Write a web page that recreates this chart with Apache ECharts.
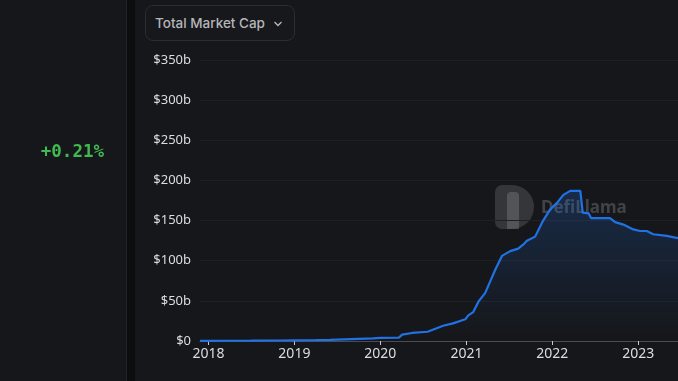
<!DOCTYPE html>
<html>
<head>
<meta charset="utf-8">
<script src="https://cdn.jsdelivr.net/npm/echarts@6/dist/echarts.min.js"></script>
<style>
  html, body { margin: 0; padding: 0; width: 678px; height: 381px; overflow: hidden; background: #16171a; }
  #left { position: absolute; left: 0; top: 0; width: 126px; height: 381px; background: #16171a; border-right: 1px solid #222327; }
  #gap { position: absolute; left: 127px; top: 0; width: 8px; height: 381px; background: #0c0d0f; }
  #chart { position: absolute; left: 0; top: 0; width: 678px; height: 381px; }
  #pct { position: absolute; left: 0; width: 104px; top: 141px; text-align: right; font-family: "DejaVu Sans Mono", monospace; font-weight: bold; font-size: 17.5px; color: #3fb950; }
  #btn { position: absolute; left: 145px; top: 5px; width: 150px; height: 36px; border: 1px solid #2b2d31; border-radius: 8px; box-sizing: border-box; background: #17181b; font-family: Inter, "Noto Sans", sans-serif; font-weight: 500; font-size: 13.5px; color: #b4b6ba; line-height: 34px; padding-left: 9px; }
  #btn svg { position: absolute; right: 11px; top: 14px; }
</style>
</head>
<body>
<div id="left"></div>
<div id="gap"></div>
<div id="chart"></div>
<div id="pct">+0.21%</div>
<div id="btn">Total Market Cap<svg width="10" height="8" viewBox="0 0 10 8"><path d="M1.5 2 L5 5.5 L8.5 2" stroke="#b4b6ba" stroke-width="1.4" fill="none"/></svg></div>
<script>
const dates = [
  '2017-11-26','2018-03-01','2018-07-01','2018-11-01','2019-01-01','2019-04-01','2019-06-01','2019-08-01','2019-10-01','2019-12-01',
  '2020-01-01','2020-03-20','2020-04-03','2020-05-15','2020-07-20','2020-09-24','2020-11-05','2020-12-27',
  '2021-01-09','2021-01-30','2021-02-21','2021-03-22','2021-04-19','2021-05-04','2021-06-01','2021-07-06','2021-08-09','2021-08-30','2021-09-15','2021-10-20','2021-10-27','2021-11-23','2021-12-23',
  '2022-01-21','2022-02-17','2022-03-18','2022-04-30','2022-05-07','2022-05-10','2022-06-04','2022-06-15','2022-09-03','2022-09-25','2022-10-30','2022-12-11',
  '2023-01-09','2023-02-06','2023-03-06','2023-05-02','2023-06-19'
];
const marketCap = [
  0.2,0.3,0.4,0.6,0.8,1.0,1.4,2.0,2.6,3.2,
  4,4.2,8,10,11.5,19,22,27,
  32,36,49,60,79,89,106,112,115,120,125,130,131,150,164,
  172,182,187,187,185,160,159,153,153,148,145,139,
  137,137,133,131,128
];
const yTicks = [0,50,100,150,200,250,300,350];
const xMin = '2017-11-26', xMax = '2023-06-19';

const chart = echarts.init(document.getElementById('chart'));
chart.setOption({
  backgroundColor: 'transparent',
  animation: false,
  grid: { left: 200, right: 0, top: 60, bottom: 40 },
  xAxis: {
    type: 'time', min: xMin, max: xMax, splitNumber: 6,
    axisLine: { lineStyle: { color: '#4a4c52' } },
    axisTick: { show: true, length: 4, lineStyle: { color: '#c8c9cc' } },
    axisLabel: { color: '#dcdde0', fontSize: 14, fontFamily: 'Noto Sans', formatter: '{yyyy}', margin: 6 },
    splitLine: { show: false }
  },
  yAxis: {
    type: 'value', min: yTicks[0], max: yTicks[yTicks.length-1], interval: 50,
    axisLine: { show: false }, axisTick: { show: false },
    axisLabel: { color: '#dcdde0', fontSize: 13, fontFamily: 'Noto Sans', margin: 9, formatter: v => v === 0 ? '$0' : '$' + v + 'b' },
    splitLine: { lineStyle: { color: '#1f2024' } }
  },
  graphic: [
    { type: 'rect', left: 495, top: 185, shape: { width: 39, height: 44, r: [7, 22, 22, 7] }, style: { fill: 'rgba(95,97,101,0.42)' }, z: 0 },
    { type: 'rect', left: 507, top: 192, shape: { width: 12, height: 37, r: [4, 4, 0, 0] }, style: { fill: 'rgba(140,142,146,0.35)' }, z: 0 },
    { type: 'text', left: 541, top: 200, style: { text: 'DefiLlama', fill: 'rgba(95,97,101,0.6)', font: 'bold 17px "Noto Sans", sans-serif' }, z: 0 }
  ],
  series: [{
    type: 'line', showSymbol: false, smooth: false,
    data: dates.map((d, i) => [d, marketCap[i]]),
    lineStyle: { color: '#2172e5', width: 2.2 },
    itemStyle: { color: '#2172e5' },
    areaStyle: { color: new echarts.graphic.LinearGradient(0, 0, 0, 1, [
      { offset: 0, color: 'rgba(33,114,229,0.32)' },
      { offset: 1, color: 'rgba(33,114,229,0)' }
    ]) }
  }]
});
</script>
</body>
</html>
